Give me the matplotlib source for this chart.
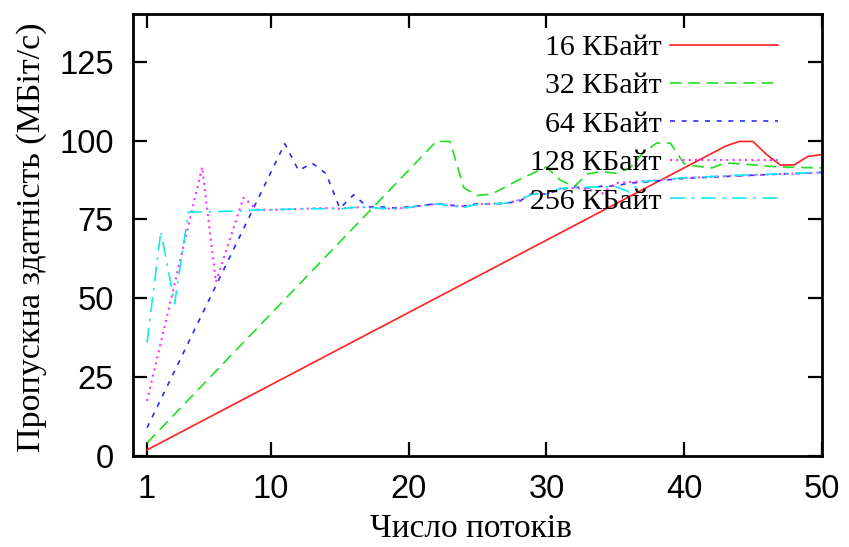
import matplotlib
matplotlib.use("Agg")
import matplotlib.pyplot as plt

# 16 KB
kb16_x = [1, 43, 44, 45, 46, 47, 48, 49, 50]
kb16_y = [2.0, 98.2, 99.7, 99.7, 95.5, 92.2, 92.3, 95.0, 95.5]

# 32 KB
kb32_x = [1, 22, 23, 24, 25, 26, 27, 28, 29, 30, 31, 32, 33, 34, 35, 36, 37,
          38, 39, 40, 41, 42, 43, 44, 45, 46, 47, 48, 49, 50]
kb32_y = [4.2, 99.7, 99.7, 85.0, 82.6, 83.0, 85.2, 87.6, 89.6, 91.6, 87.5,
          85.3, 89.4, 90.2, 89.6, 91.0, 96.0, 99.2, 99.2, 92.6, 91.8, 91.3,
          92.9, 92.6, 92.3, 91.9, 91.6, 91.5, 91.4, 91.3]

# 64 KB
kb64_x = [1, 11, 12, 13, 14, 15, 16, 17, 18, 19, 20, 21, 22, 23, 24, 25, 26,
          27, 28, 29, 30, 31, 32, 33, 34, 35, 36, 37, 38, 39, 40, 41, 42, 43,
          44, 45, 46, 47, 48, 49, 50]
kb64_y = [9.0, 99.0, 90.5, 92.8, 89.5, 78.5, 82.8, 79.0, 79.0, 78.6, 79.0,
          79.4, 80.0, 79.5, 79.2, 80.0, 79.8, 80.2, 80.6, 83.4, 83.0, 84.5,
          85.2, 85.0, 85.5, 85.6, 86.5, 86.8, 87.2, 87.6, 88.0, 88.2, 88.4,
          88.6, 88.8, 89.0, 89.2, 89.4, 89.5, 89.7, 89.9]

# 128 KB
kb128_x = [1, 5, 6, 8, 9, 10, 11, 12, 13, 14, 15, 16, 17, 18, 19, 20, 21, 22,
           23, 24, 25, 26, 27, 28, 29, 30, 31, 32, 33, 34, 35, 36, 37, 38, 39,
           40, 41, 42, 43, 44, 45, 46, 47, 48, 49, 50]
kb128_y = [17.5, 91.6, 55.2, 81.9, 78.1, 78.0, 78.2, 78.3, 78.5, 78.6, 78.4,
           78.8, 78.9, 78.5, 78.4, 78.8, 79.4, 79.9, 79.5, 79.1, 79.8, 80.0,
           80.1, 81.0, 83.2, 83.0, 84.8, 85.0, 84.6, 83.0, 86.5, 86.8, 87.1,
           87.3, 87.7, 88.1, 88.3, 88.5, 88.7, 88.9, 89.0, 89.2, 89.4, 89.5,
           89.7, 89.8]

# 256 KB
kb256_x = [1, 2, 3, 4, 5, 6, 7, 8, 9, 10, 11, 12, 13, 14, 15, 16, 17, 18, 19,
           20, 21, 22, 23, 24, 25, 26, 27, 28, 29, 30, 31, 32, 33, 34, 35, 36,
           37, 38, 39, 40, 41, 42, 43, 44, 45, 46, 47, 48, 49, 50]
kb256_y = [36.0, 71.3, 48.3, 77.3, 77.4, 77.5, 77.6, 77.7, 78.0, 78.1, 78.2,
           78.3, 78.4, 78.4, 78.3, 78.8, 78.9, 78.5, 78.4, 78.8, 79.4, 79.9,
           79.4, 78.8, 79.8, 80.0, 80.1, 81.2, 83.0, 83.0, 84.8, 85.1, 85.2,
           85.3, 85.4, 83.8, 87.0, 87.4, 87.8, 88.2, 88.4, 88.6, 88.8, 89.0,
           89.1, 89.3, 89.4, 89.6, 89.8, 89.9]

labels = ["16 КБайт", "32 КБайт", "64 КБайт", "128 КБайт", "256 КБайт"]
x_ticks = [1, 10, 20, 30, 40, 50]
y_ticks = [0, 25, 50, 75, 100, 125]

fig = plt.figure(figsize=(8.49, 5.47), dpi=100)
ax = fig.add_axes([0.157, 0.166, 0.811, 0.808])

lw = 1.2
ax.plot(kb16_x, kb16_y, color="#ff2020", lw=lw, ls="-", label=labels[0])
ax.plot(kb32_x, kb32_y, color="#20e020", lw=lw, ls=(0, (7, 4)), label=labels[1])
ax.plot(kb64_x, kb64_y, color="#2a2aff", lw=lw, ls=(0, (3, 4)), label=labels[2])
ax.plot(kb128_x, kb128_y, color="#ff30ff", lw=lw + 0.3, ls=(0, (1, 2)), label=labels[3])
ax.plot(kb256_x, kb256_y, color="#10eaea", lw=lw, ls=(0, (9, 4, 1.5, 4)), label=labels[4])

ax.set_xlim(0, 50)
ax.set_ylim(0, 140)
ax.set_xticks(x_ticks)
ax.set_yticks(y_ticks)
ax.tick_params(direction="in", length=10, width=1.6, top=True, right=True,
               labelsize=23.5)
ax.tick_params(axis="x", pad=13)
ax.tick_params(axis="y", pad=14)
for lab in ax.get_xticklabels() + ax.get_yticklabels():
    lab.set_fontfamily("Liberation Sans")
for sp in ax.spines.values():
    sp.set_linewidth(2.0)

serif = "Liberation Serif"
ax.text(0.49, -0.165, "Число потоків", transform=ax.transAxes, ha="center",
        va="center", fontsize=24, family=serif)
ax.text(-0.148, 0.495, "Пропускна здатність (МБіт/с)", transform=ax.transAxes,
        ha="center", va="center", rotation=90, fontsize=24.5, family=serif)

ax.legend(loc="upper right", bbox_to_anchor=(0.936, 0.955), frameon=False,
          markerfirst=False, borderpad=0, borderaxespad=0, handlelength=3.6,
          handletextpad=0.3, labelspacing=0.385,
          prop={"family": serif, "size": 21.5})

fig.savefig("out.png", dpi=100)
